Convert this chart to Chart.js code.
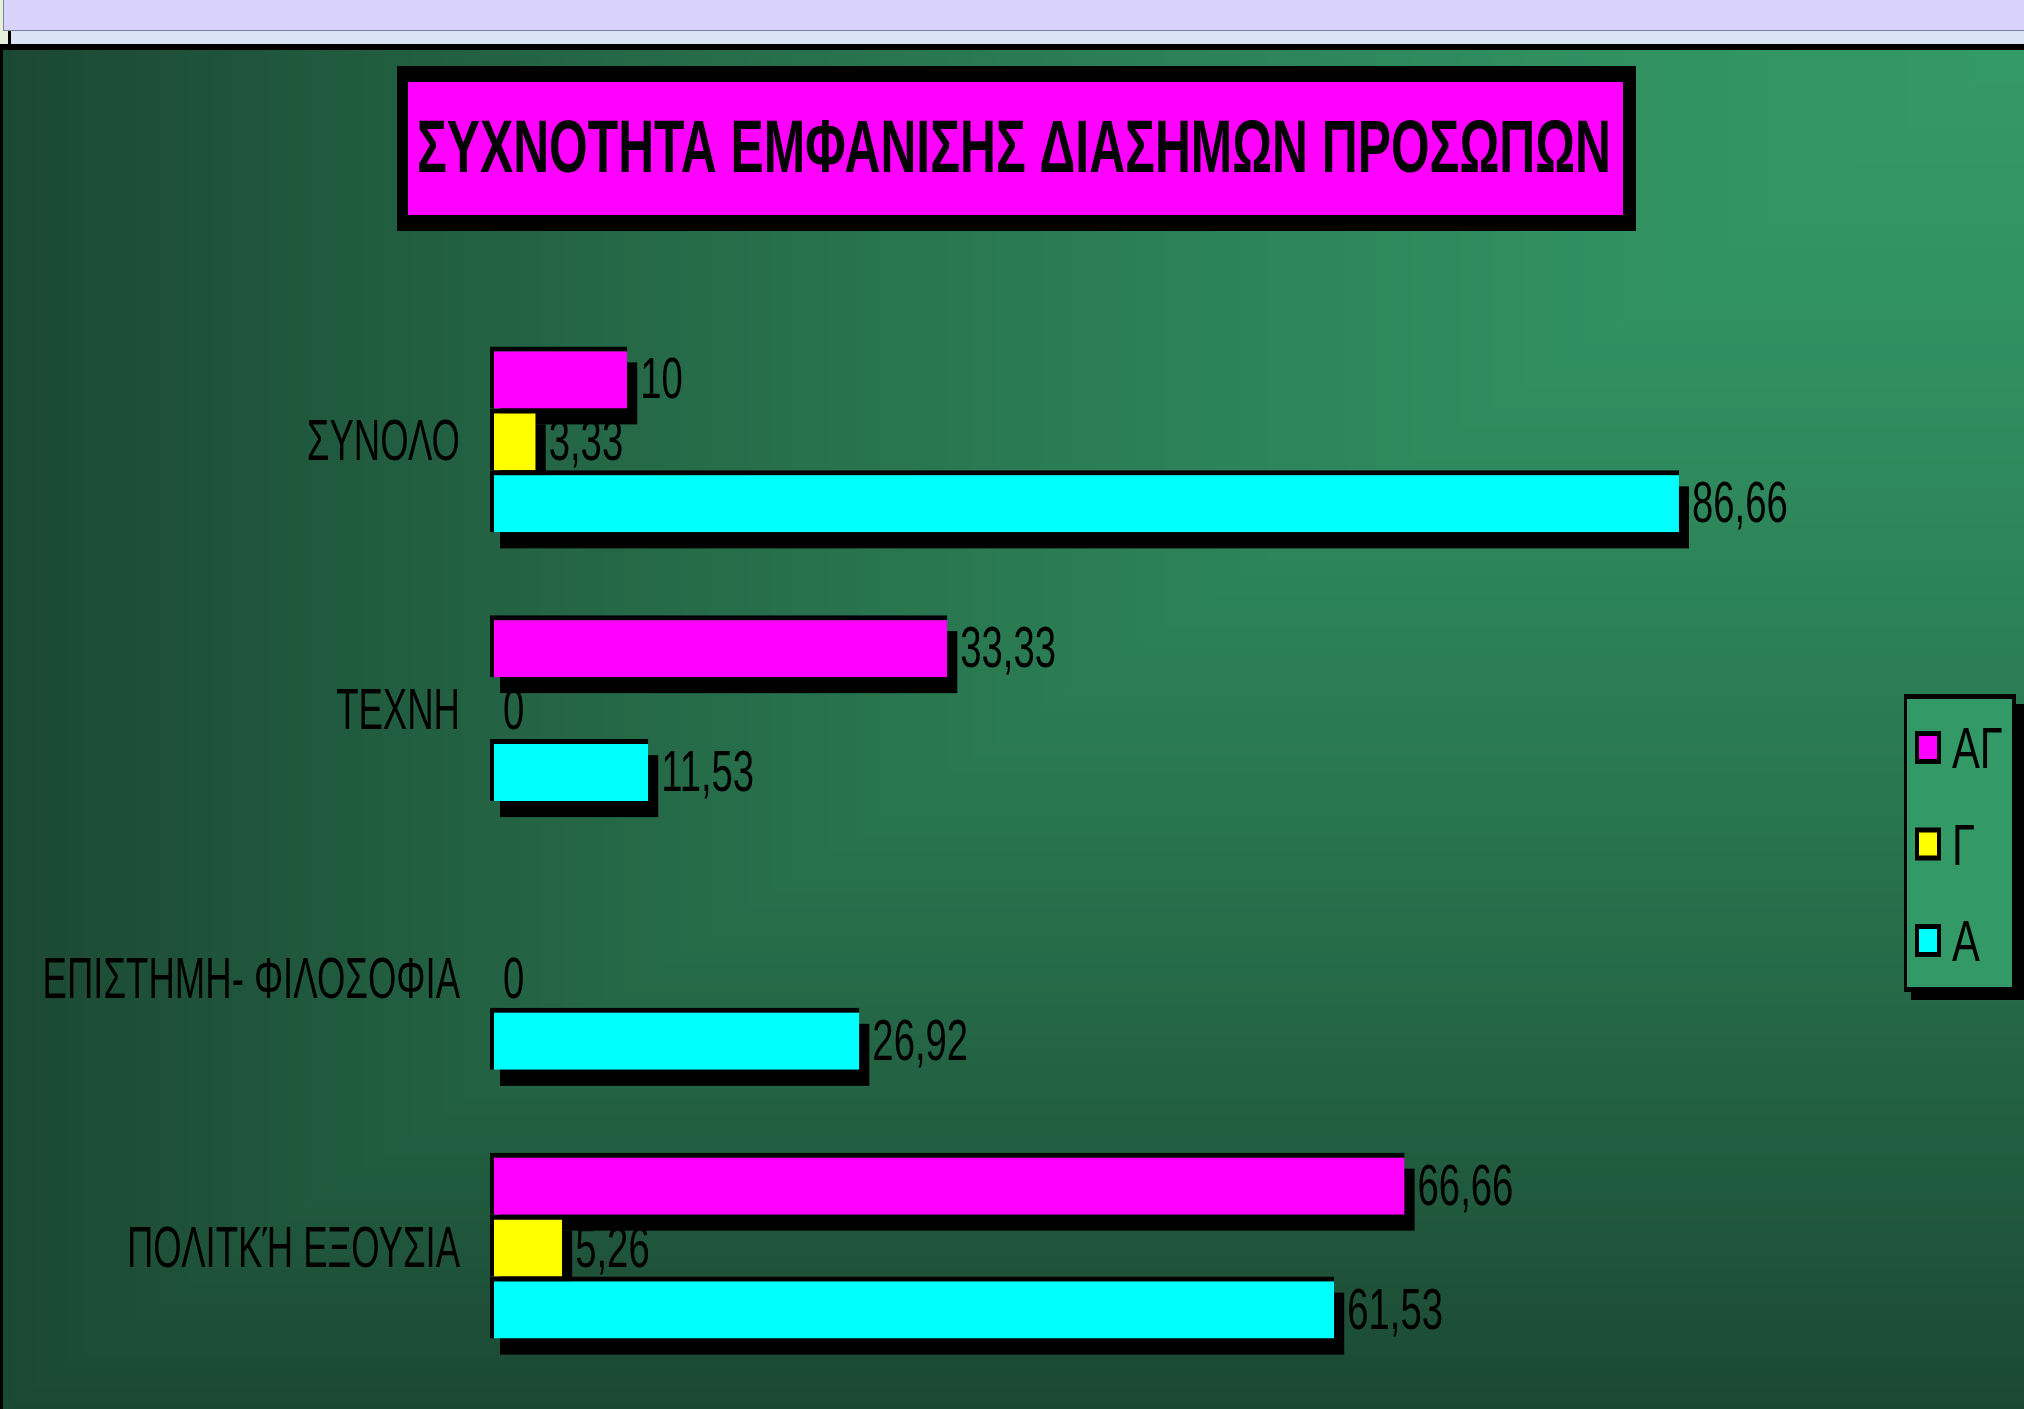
<!DOCTYPE html>
<html>
<head>
<meta charset="utf-8">
<script src="https://cdn.jsdelivr.net/npm/chart.js@4.4.1/dist/chart.umd.min.js"></script>
<style>
html,body{margin:0;padding:0;overflow:hidden;background:#1b4a33;}
canvas{display:block;}
</style>
</head>
<body>
<canvas id="c" width="2024" height="1409"></canvas>
<script>
// ---- data ----
const chartTitle = 'ΣΥΧΝΟΤΗΤΑ ΕΜΦΑΝΙΣΗΣ ΔΙΑΣΗΜΩΝ ΠΡΟΣΩΠΩΝ';
const categories = ['ΣΥΝΟΛΟ', 'ΤΕΧΝΗ', 'ΕΠΙΣΤΗΜΗ- ΦΙΛΟΣΟΦΙΑ', 'ΠΟΛΙΤΚΉ ΕΞΟΥΣΙΑ'];
const seriesNames = ['ΑΓ', 'Γ', 'Α'];
const valuesAG = [10, 33.33, null, 66.66];
const valuesG = [3.33, 0, 0, 5.26];
const valuesA = [86.66, 11.53, 26.92, 61.53];
const seriesColors = ['#ff00ff', '#ffff00', '#00ffff'];

const FONT = '"Liberation Sans", Arial, sans-serif';

function condensedText(ctx, text, x, y, size, scaleX, align, color, weight) {
  ctx.save();
  ctx.font = (weight || 'normal') + ' ' + size + 'px ' + FONT;
  ctx.fillStyle = color;
  ctx.textBaseline = 'alphabetic';
  ctx.textAlign = 'left';
  const w = ctx.measureText(text).width * scaleX;
  const x0 = align === 'right' ? x - w : (align === 'center' ? x - w / 2 : x);
  ctx.translate(x0, y);
  ctx.scale(scaleX, 1);
  ctx.fillText(text, 0, 0);
  ctx.restore();
}

function fmt(v) {
  return String(v).replace('.', ',');
}

let gradCanvas = null;
function makeGradient(w, h) {
  const c = document.createElement('canvas');
  c.width = w; c.height = h;
  const g = c.getContext('2d');
  const img = g.createImageData(w, h);
  const c0 = [51, 153, 102], c1 = [27, 72, 50];
  for (let y = 0; y < h; y++) {
    const ty = y / h;
    for (let x = 0; x < w; x++) {
      const tx = (w - x) / w;
      let t = Math.max(tx, ty);
      t = Math.pow(Math.min(1, t), 1.4);
      const k = (y * w + x) * 4;
      img.data[k] = c0[0] + (c1[0] - c0[0]) * t;
      img.data[k + 1] = c0[1] + (c1[1] - c0[1]) * t;
      img.data[k + 2] = c0[2] + (c1[2] - c0[2]) * t;
      img.data[k + 3] = 255;
    }
  }
  g.putImageData(img, 0, 0);
  return c;
}

const decoPlugin = {
  id: 'deco',
  beforeDraw(chart) {
    const ctx = chart.ctx;
    const W = chart.width, H = chart.height;
    ctx.save();
    // window strip at the top
    ctx.fillStyle = '#e4f0da'; ctx.fillRect(0, 0, W, 50);
    ctx.fillStyle = '#d9d3fb'; ctx.fillRect(4, 0, W - 4, 30);
    ctx.fillStyle = '#80809a'; ctx.fillRect(3, 0, 1, 31); ctx.fillRect(3, 30, W - 3, 1);
    ctx.fillStyle = '#dae4f4'; ctx.fillRect(11, 31, W - 11, 13);
    ctx.fillStyle = '#000'; ctx.fillRect(8, 31, 3, 13);
    ctx.fillRect(0, 44, W, 6);
    // green gradient background
    if (!gradCanvas) gradCanvas = makeGradient(W - 3, H - 50);
    ctx.drawImage(gradCanvas, 3, 50);
    ctx.fillStyle = '#000'; ctx.fillRect(0, 44, 3, H - 44);
    // title box
    ctx.fillStyle = '#000'; ctx.fillRect(397, 66, 1239, 165);
    ctx.fillStyle = '#ff00ff'; ctx.fillRect(408, 82, 1215, 133);
    ctx.restore();
    // title text, stretched to the box width
    ctx.save();
    ctx.font = 'bold 74px ' + FONT;
    const tw = ctx.measureText(chartTitle).width;
    ctx.restore();
    condensedText(ctx, chartTitle, 417, 172, 74, 1194 / tw, 'left', '#000', 'bold');
  },
  beforeDatasetsDraw(chart) {
    // hard drop shadows under the bars
    const ctx = chart.ctx;
    ctx.save();
    ctx.fillStyle = '#000';
    chart.data.datasets.forEach((ds, i) => {
      const meta = chart.getDatasetMeta(i);
      meta.data.forEach((bar, j) => {
        const v = ds.data[j];
        if (v === null || v === 0) return;
        const p = bar.getProps(['x', 'y', 'base', 'height'], true);
        ctx.fillRect(p.base + 10, p.y - p.height / 2 + 16, p.x - p.base, p.height);
      });
    });
    ctx.restore();
  },
  afterDatasetsDraw(chart) {
    const ctx = chart.ctx;
    // value labels
    chart.data.datasets.forEach((ds, i) => {
      const meta = chart.getDatasetMeta(i);
      meta.data.forEach((bar, j) => {
        const v = ds.data[j];
        if (v === null) return;
        const p = bar.getProps(['x', 'y'], true);
        condensedText(ctx, fmt(v), p.x + 13, p.y + 21, 58, 0.66, 'left', '#000');
      });
    });
    // category labels
    const ys = chart.scales.y;
    chart.data.labels.forEach((lab, i) => {
      const cy = ys.getPixelForValue(i);
      condensedText(ctx, lab, 460, cy + 21, 58, 0.63, 'right', '#000');
    });
    // legend
    ctx.save();
    ctx.fillStyle = '#000';
    ctx.fillRect(1911, 704, 113, 296);
    ctx.fillRect(1904, 694, 112, 298);
    ctx.fillStyle = '#339966';
    ctx.fillRect(1907, 699, 105, 288);
    chart.data.datasets.forEach((ds, i) => {
      const cy = 747 + i * 96.5;
      ctx.fillStyle = '#000';
      ctx.fillRect(1915, cy - 16, 26, 33);
      ctx.fillStyle = ds.backgroundColor;
      ctx.fillRect(1919, cy - 11, 18, 23);
      condensedText(ctx, ds.label, 1952, cy + 21, 58, 0.72, 'left', '#000');
    });
    ctx.restore();
  }
};

const seriesValues = [valuesAG, valuesG, valuesA];

new Chart(document.getElementById('c'), {
  type: 'bar',
  data: {
    labels: categories,
    datasets: seriesNames.map((name, i) => ({
      label: name,
      data: seriesValues[i],
      backgroundColor: seriesColors[i],
      borderColor: '#000',
      borderWidth: { top: 5, left: 4, right: 0, bottom: 0 },
      borderSkipped: false,
      categoryPercentage: 0.692,
      barPercentage: 1.0
    }))
  },
  options: {
    indexAxis: 'y',
    responsive: false,
    animation: false,
    devicePixelRatio: 1,
    layout: { padding: { left: 490, right: 162, top: 305, bottom: 29 } },
    scales: {
      x: { type: 'linear', min: 0, max: 100, display: false },
      y: { type: 'category', display: false }
    },
    plugins: {
      legend: { display: false },
      title: { display: false },
      tooltip: { enabled: false }
    }
  },
  plugins: [decoPlugin]
});
</script>
</body>
</html>
